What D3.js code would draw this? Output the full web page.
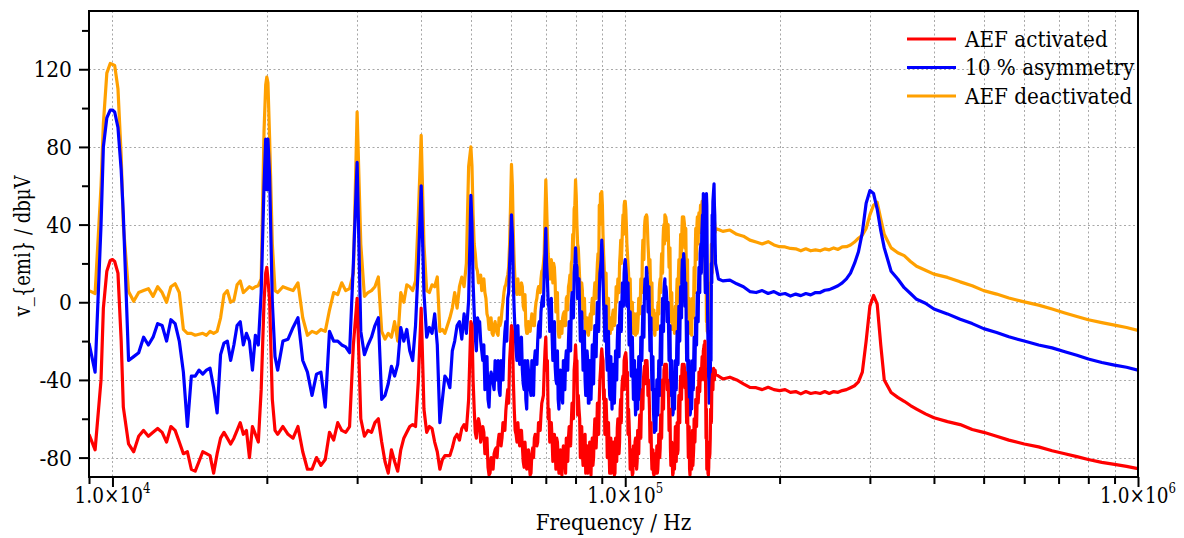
<!DOCTYPE html>
<html><head><meta charset="utf-8">
<script src="https://cdn.jsdelivr.net/npm/d3@7"></script>
<style>
body{margin:0;background:#fff}
svg{display:block}
</style>
</head><body>
<svg id="chart" width="1184" height="538"></svg>
<script>
// ---------- DATA (frequency in kHz, level in dBµV) ----------
const freqLowKHz = [9,9.25,9.5,9.75,10,10.25,10.5,10.75,11,11.25,11.5,11.75,12,12.25,12.5,12.75,13,13.25,13.5,13.75,14,14.25,14.5,14.75,15,15.25,15.5,15.75,16,16.25,16.5,16.75,17,17.25,17.5,17.75,18,18.25,18.5,18.75,19,19.25,19.5,19.75,
19.9,20,20.1,20.25,20.5,20.75,21,
21.5,22,22.5,23,23.5,24,24.5,25,25.5,26,26.5,27,27.5,28,28.5,29,29.5,30,30.5,31,31.5,32,32.5,33,33.5,34,34.5,35,35.5,36,36.5,37,37.5,38,38.5,39,39.5,40,40.5,41,41.5,42,42.5,43,43.5,44,44.5,45,45.5,46,46.5,47,47.5,48,48.5,49,49.5,50,
51,52,53,54,55,56,57,58,59,60,61,62,63,64,65,66,67,68,69,70,71,72,73,74,75,76,77,78,79,80,81,82,83,84,85,86,87,88,89,90,91,92,93,94,95,96,97,98,99,100,
101,102,103,104,105,106,107,108,109,110,111,112,113,114,115,116,117,118,119,120,121,122,123,124,125,126,127,128,129,130,131,132,133,134,135,136,137,138,139,140,141,142,143,144,145,146,147,148,149,150];

const deactivatedLow = [6,4.5,60,118,122.5,110,40,5.5,0.5,5,6,7,3,8,5,0,8,9.5,5,-14,-16,-16,-17,-16.5,-16,-17,-15,-16,-15,-8,4,6,0,1,9,11,5,6.5,8,7,8,8.5,12,88,
112,116,113,85,30,6,5,
8,7,6,10,-8,-17,-15,-16,-14,-15,-4,5,4,10,6,7,15,98,30,3,5,6,8,13,-15,-19,-16,-18,-10,-20,5,0,9,8,6,11,45,86,30,6,5,9,8,13,-15,-14,-16,-12,-8,-3,5,-3,8,13,8,20,70,80,
25,11,12,-8,-16,-14,-12,5,14,71,10,6,8,-12,-14,-8,0,8,16,63,20,17,10,-15,-12,-5,3,14,35,63,28,2,-5,-12,-14,-2,5,12,50,57,18,-2,-13,-10,-4,8,12,32,45,52,
25,8,-5,-14,-15,-8,0,25,38,45,25,10,-10,-16,-8,0,12,22,40,44,38,20,-10,-12,-6,5,15,25,38,44,32,10,-8,-16,-5,3,28,40,44,46,50,53,25,-10,-16,-5,20,35,39,38];

const asymmetryLow = [-21,-36,40,95,99,90,45,-30,-28,-26,-18,-22,-18,-11,-12,-20,-9,-11,-20,-36,-64,-38,-38,-35,-37,-35,-34,-44,-57,-27,-21,-20,-30,-22,-12,-10,-22,-16,-20,-35,-17,-22,5,60,
84,58,84,65,0,-28,-35,
-20,-19,-13,-8,-30,-36,-48,-37,-36,-54,-15,-20,-20,-22,-23,-26,20,72,-15,-27,-22,-18,-12,-8,-50,-48,-42,-33,-38,-32,-13,-20,-14,-25,-30,-12,20,60,5,-18,-13,-16,-6,-22,-62,-50,-38,-40,-44,-25,-20,-12,-10,-19,-6,-16,1,55,
-18,-10,-22,-50,-38,-35,-48,-24,2,45,-16,-26,-35,-50,-38,-42,-27,-10,3,38,-3,-17,-33,-50,-45,-38,-28,-12,3,28,10,-12,-28,-37,-52,-38,-22,-10,5,32,-8,-27,-38,-45,-50,-28,-15,-5,6,22,
5,-12,-28,-42,-52,-45,-35,-15,5,18,0,-20,-40,-67,-55,-45,-25,-10,6,8,-5,-25,-45,-57,-40,-25,-15,-5,15,25,5,-25,-45,-57,-45,-30,-20,-5,8,25,35,56,20,56,-20,-50,-30,40,61,20];

const activatedLow = [-68,-76,-40,16,22,15,-54,-73,-77,-69,-66,-69,-67,-65,-67,-72,-64,-66,-72,-78,-77,-86,-87,-82,-77,-78,-79,-88,-78,-70,-67,-70,-73,-70,-66,-62,-68,-66,-80,-64,-68,-72,-45,0,
15,18,12,1,-50,-66,-68,
-64,-68,-70,-64,-77,-86,-86,-80,-84,-81,-67,-71,-62,-66,-67,-64,-22,2,-60,-69,-66,-67,-62,-60,-72,-82,-88,-76,-82,-87,-76,-70,-67,-64,-63,-64,-40,-3,-55,-67,-64,-65,-72,-77,-86,-81,-79,-79,-79,-75,-70,-68,-71,-65,-63,-66,-50,-10,
-67,-63,-67,-85,-82,-75,-68,-63,-45,-12,-66,-70,-74,-80,-84,-75,-70,-64,-50,-18,-55,-70,-75,-80,-85,-84,-76,-68,-58,-22,-48,-68,-74,-82,-86,-75,-68,-66,-50,-24,-45,-60,-75,-88,-78,-73,-68,-50,-38,-27,
-36,-72,-85,-80,-75,-72,-65,-45,-33,-32,-40,-70,-82,-85,-83,-80,-75,-55,-35,-33,-40,-62,-80,-88,-75,-70,-55,-45,-35,-33,-36,-55,-70,-80,-78,-75,-62,-55,-48,-38,-33,-25,-20,-55,-88,-80,-60,-37,-35,-37];

// extra readings around the 10 kHz fundamental
const freqPeakKHz = [9.6, 9.9, 10.1, 10.4];
const deactivatedPeak = [92, 123, 122, 75];
const asymmetryPeak = [80, 99, 98, 68];
const activatedPeak = [-3, 21.5, 21, -20];

// extra readings between the integer-kHz samples (dense ripple region 50–150 kHz)
const freqMidKHz = [50.5,51.5,52.5,53.5,54.5,55.5,56.5,57.5,58.5,59.5,60.5,61.5,62.5,63.5,64.5,65.5,66.5,67.5,68.5,69.5,
70.5,71.5,72.5,73.5,74.5,75.5,76.5,77.5,78.5,79.5,80.5,81.5,82.5,83.5,84.5,85.5,86.5,87.5,88.5,89.5,
90.5,91.5,92.5,93.5,94.5,95.5,96.5,97.5,98.5,99.5,100.5,101.5,102.5,103.5,104.5,105.5,106.5,107.5,108.5,109.5,
110.5,111.5,112.5,113.5,114.5,115.5,116.5,117.5,118.5,119.5,120.5,121.5,122.5,123.5,124.5,125.5,126.5,127.5,128.5,129.5,
130.5,131.5,132.5,133.5,134.5,135.5,136.5,137.5,138.5,139.5,140.5,141.5,142.5,143.5,144.5,145.5,146.5,147.5,148.5,149.5];

const deactivatedMid = [45,16,6,2,-14,-12,-17,-4,9,30,35,4,9,-4,-16,-10,-12,6,12,25,
35,12,20,-5,-18,-8,-12,8,20,48,40,12,6,-10,-16,-6,0,10,25,56,
35,5,-8,-16,-6,-10,4,20,28,50,40,15,-2,-12,-8,-16,-2,12,30,44,
38,15,0,-14,-10,-14,6,18,32,45,40,28,5,-14,-8,-14,10,22,35,43,
40,20,0,-14,-10,-2,15,35,38,45,40,45,50,5,-15,-10,5,30,36,40];

const asymmetryMid = [10,-8,-25,-35,-40,-45,-30,-36,-10,20,10,-30,-20,-45,-30,-48,-30,-20,-5,15,
12,-12,-28,-42,-38,-52,-30,-20,-2,15,18,-5,-20,-40,-30,-45,-28,-15,0,18,
12,-18,-32,-50,-38,-40,-20,-8,0,15,14,-5,-20,-35,-48,-40,-50,-25,-5,10,
10,-10,-30,-55,-60,-48,-35,-18,0,12,2,-15,-35,-50,-48,-35,-20,-8,5,20,
15,-10,-38,-50,-52,-38,-25,-12,2,15,30,45,40,45,20,-40,-45,10,55,45];

const activatedMid = [-40,-62,-68,-74,-88,-78,-72,-70,-56,-30,-40,-72,-66,-85,-78,-88,-70,-72,-58,-35,
-30,-66,-78,-70,-88,-80,-88,-70,-62,-35,-30,-60,-78,-68,-88,-80,-84,-62,-58,-35,
-30,-55,-70,-82,-80,-88,-65,-72,-45,-30,-30,-55,-80,-88,-72,-82,-65,-55,-40,-30,
-35,-55,-78,-88,-78,-88,-72,-66,-45,-32,-36,-50,-75,-82,-84,-68,-78,-50,-42,-32,
-34,-48,-66,-86,-72,-84,-68,-58,-45,-42,-36,-30,-22,-45,-80,-85,-70,-45,-36,-36];

// quarter-kHz readings, 50–150 kHz
const freqQuarterKHz = [50.25,50.75,51.25,51.75,52.25,52.75,53.25,53.75,54.25,54.75,55.25,55.75,56.25,56.75,57.25,57.75,58.25,58.75,59.25,59.75,
60.25,60.75,61.25,61.75,62.25,62.75,63.25,63.75,64.25,64.75,65.25,65.75,66.25,66.75,67.25,67.75,68.25,68.75,69.25,69.75,
70.25,70.75,71.25,71.75,72.25,72.75,73.25,73.75,74.25,74.75,75.25,75.75,76.25,76.75,77.25,77.75,78.25,78.75,79.25,79.75,
80.25,80.75,81.25,81.75,82.25,82.75,83.25,83.75,84.25,84.75,85.25,85.75,86.25,86.75,87.25,87.75,88.25,88.75,89.25,89.75,
90.25,90.75,91.25,91.75,92.25,92.75,93.25,93.75,94.25,94.75,95.25,95.75,96.25,96.75,97.25,97.75,98.25,98.75,99.25,99.75,
100.25,100.75,101.25,101.75,102.25,102.75,103.25,103.75,104.25,104.75,105.25,105.75,106.25,106.75,107.25,107.75,108.25,108.75,109.25,109.75,
110.25,110.75,111.25,111.75,112.25,112.75,113.25,113.75,114.25,114.75,115.25,115.75,116.25,116.75,117.25,117.75,118.25,118.75,119.25,119.75,
120.25,120.75,121.25,121.75,122.25,122.75,123.25,123.75,124.25,124.75,125.25,125.75,126.25,126.75,127.25,127.75,128.25,128.75,129.25,129.75,
130.25,130.75,131.25,131.75,132.25,132.75,133.25,133.75,134.25,134.75,135.25,135.75,136.25,136.75,137.25,137.75,138.25,138.75,139.25,139.75,
140.25,140.75,141.25,141.75,142.25,142.75,143.25,143.75,144.25,144.75,145.25,145.75,146.25,146.75,147.25,147.75,148.25,148.75,149.25,149.75];

const deactivatedQuarter = [70,30,18,10,14,8,5,-6,-14,-8,-17,-10,-16,-8,-10,0,8,12,18,50,
60,20,6,12,4,10,-2,4,-16,-10,-15,-6,-12,-4,2,8,5,16,20,45,
50,25,12,22,10,18,-5,5,-18,-10,-16,-6,-12,2,-4,10,6,22,28,50,
55,30,20,5,10,-8,2,-15,-8,-17,-8,-14,2,-6,10,2,20,10,40,55,
50,25,8,15,-5,2,-16,-8,-14,-4,-12,-2,0,12,5,25,20,38,35,52,
48,30,20,5,12,-8,0,-16,-6,-17,-6,-14,2,-6,12,5,32,22,42,40,
44,30,18,22,2,10,-14,-4,-17,-6,-14,-2,-6,10,5,25,15,38,30,44,
42,32,40,18,28,0,5,-14,-4,-16,-2,-10,12,0,22,10,35,22,44,38,
42,28,38,15,22,-2,2,-16,-6,-17,2,-8,18,5,38,22,44,30,46,36,
50,36,52,40,54,45,12,30,-8,-14,-4,-16,10,0,30,15,40,30,42,36];

const asymmetryQuarter = [40,-5,-25,-10,-20,-30,-45,-28,-54,-36,-42,-30,-40,-45,-30,-40,-15,-20,5,30,
35,-5,-25,-12,-32,-18,-42,-30,-55,-35,-45,-30,-48,-25,-32,-12,-18,0,-2,25,
20,0,-15,2,-30,-10,-40,-25,-55,-35,-48,-30,-45,-25,-35,-10,-25,5,-8,20,
20,2,12,-20,-5,-35,-15,-48,-25,-52,-30,-50,-22,-42,-12,-28,0,-15,15,22,
25,0,-20,-2,-35,-15,-48,-28,-55,-32,-52,-25,-40,-12,-28,0,-15,10,-2,20,
18,-2,10,-22,-5,-38,-18,-50,-30,-58,-35,-55,-28,-48,-18,-30,-2,-18,12,2,
15,-5,8,-25,-8,-45,-28,-62,-45,-66,-40,-58,-30,-48,-12,-32,2,-15,10,-2,
6,-10,0,-30,-12,-48,-30,-58,-42,-55,-30,-45,-15,-32,-2,-20,8,-8,22,10,
22,-2,10,-30,-10,-52,-30,-58,-40,-55,-30,-45,-18,-35,-8,-22,5,-10,18,5,
28,15,40,25,50,30,5,45,50,-5,-35,-52,-40,-15,20,45,52,58,50,30];

const activatedQuarter = [-12,-55,-70,-60,-72,-64,-78,-70,-89,-80,-86,-76,-80,-68,-74,-62,-66,-50,-52,-22,
-15,-55,-68,-62,-74,-66,-82,-72,-86,-76,-89,-78,-80,-68,-74,-62,-66,-52,-48,-25,
-35,-60,-72,-62,-82,-68,-86,-72,-88,-76,-89,-74,-80,-70,-82,-64,-74,-52,-60,-30,
-30,-58,-55,-80,-64,-84,-70,-88,-74,-86,-72,-89,-70,-80,-60,-75,-52,-68,-40,-28,
-28,-50,-68,-50,-80,-62,-88,-70,-84,-72,-89,-70,-82,-60,-78,-55,-62,-40,-45,-28,
-26,-45,-68,-62,-86,-76,-89,-74,-84,-70,-86,-66,-78,-58,-70,-48,-55,-36,-42,-30,
-30,-48,-45,-72,-62,-86,-76,-89,-80,-88,-74,-86,-68,-80,-58,-70,-40,-55,-33,-40,
-32,-45,-42,-66,-55,-84,-72,-89,-76,-86,-64,-82,-62,-76,-48,-62,-38,-50,-32,-40,
-32,-44,-40,-62,-50,-80,-64,-89,-70,-86,-66,-80,-60,-72,-50,-64,-44,-52,-36,-46,
-34,-40,-28,-38,-24,-40,-30,-70,-86,-75,-89,-72,-78,-55,-62,-40,-45,-34,-40,-35];

const freqHighKHz = [152,155,160,165,170,175,180,185,190,195,200,205,210,215,220,225,230,235,240,245,250,255,260,265,270,275,280,
285,290,295,300,305,310,315,320,330,340,350,360,370,385,400,425,450,475,500,530,560,600,640,680,720,760,800,850,900,950,1000];

const deactivatedHigh = [37.5,36.5,37.2,35,34,32,31,30,31.2,29.5,28.6,28.5,27.7,27.5,26.5,27.5,26.5,27,26.5,27.5,27,28,27.2,28.5,28.6,29.5,31,
33,34.5,38,45,50,51.5,43,35,28,25.5,24,21,18.5,16.5,14.5,12.8,10.5,8.5,6,4.2,2.2,0.2,-1.5,-3.5,-5.5,-7.3,-9,-10.5,-11.8,-13,-14.5];

const asymmetryHigh = [12,11,11.4,9.5,8,5.5,5,6,4.5,5.5,4,4.5,3.2,4.2,3.4,4.5,3.8,5,5,6.2,6.5,7.5,8.5,10,12,15,20,
26,36,51,57.5,56,48,37,28,16,12,7.5,4.5,1.5,-0.5,-3.5,-6,-8.8,-11,-13.6,-15.6,-17.8,-20,-22,-23.5,-25.5,-27.3,-29.2,-31,-32.4,-33.5,-35];

const activatedHigh = [-38,-39.5,-38.6,-40,-42,-43.8,-44,-45,-43.8,-45,-45.5,-45,-46.4,-46,-47.2,-46,-47,-46.5,-47,-46,-47,-46,-46.4,-45.5,-45,-44,-43,
-41,-36,-20,-2,3.5,-1,-22,-40,-46.5,-49,-51,-53.2,-55,-57.5,-59.5,-61.5,-63,-65.5,-67,-69,-71,-73,-74.5,-76.5,-78,-79.5,-81,-82.5,-83.5,-84.5,-85.7];

const seriesNames = ["AEF activated", "10 % asymmetry", "AEF deactivated"];
const seriesColors = ["#ff0000", "#0000ff", "#ffa000"];

const xMajorTicks = [10, 100, 1000];
const xMajorMantissa = ["1.0×10", "1.0×10", "1.0×10"];
const xMajorExponent = ["4", "5", "6"];
const xMinorTicks = [9,20,30,40,50,60,70,80,90,200,300,400,500,600,700,800,900];
const xGridTicks = [10,20,30,40,50,60,70,80,90,100,200,300,400,500,600,700,800,900];
const yMajorTicks = [-80,-40,0,40,80,120];
const yMinorTicks = [-60,-20,20,60,100,140];

const xTitle = "Frequency / Hz";
const yTitle = "v_{emi} / dbμV";

// ---------- CHART ----------
const FONT = "DejaVu Serif, serif";
const FS = 22;
const svg = d3.select("#chart");
svg.append("rect").attr("width",1184).attr("height",538).attr("fill","#ffffff");

const L = 89, R = 1138, T = 11, B = 477;
const x = d3.scaleLog().domain([9, 1000]).range([L, R]);
const y = d3.scaleLinear().domain([-90, 150]).range([B, T]);

// grid
const grid = svg.append("g").attr("stroke","#a8a8a8").attr("stroke-width",1).attr("stroke-dasharray","2,2.5");
grid.selectAll(".gx").data(xGridTicks).join("line")
  .attr("x1", d => Math.round(x(d)) + 0.5).attr("x2", d => Math.round(x(d)) + 0.5)
  .attr("y1", T).attr("y2", B);
grid.selectAll(".gy").data(yMajorTicks).join("line")
  .attr("y1", d => Math.round(y(d)) + 0.5).attr("y2", d => Math.round(y(d)) + 0.5)
  .attr("x1", L).attr("x2", R);

// series
svg.append("clipPath").attr("id", "plotclip").append("rect")
  .attr("x", L).attr("y", T).attr("width", R - L).attr("height", B - T);

function buildSeries(parts) {
  let pts = [];
  parts.forEach(([fs, vs]) => { pts = pts.concat(fs.map((f, k) => [f, vs[k]])); });
  return pts.sort((a, b) => a[0] - b[0]);
}
const seriesData = [
  buildSeries([[freqLowKHz, activatedLow], [freqPeakKHz, activatedPeak], [freqMidKHz, activatedMid], [freqQuarterKHz, activatedQuarter], [freqHighKHz, activatedHigh]]),
  buildSeries([[freqLowKHz, asymmetryLow], [freqPeakKHz, asymmetryPeak], [freqMidKHz, asymmetryMid], [freqQuarterKHz, asymmetryQuarter], [freqHighKHz, asymmetryHigh]]),
  buildSeries([[freqLowKHz, deactivatedLow], [freqPeakKHz, deactivatedPeak], [freqMidKHz, deactivatedMid], [freqQuarterKHz, deactivatedQuarter], [freqHighKHz, deactivatedHigh]])
];
const line = d3.line().x(d => x(d[0])).y(d => y(d[1]));
const drawOrder = [2, 1, 0];
const plot = svg.append("g").attr("clip-path", "url(#plotclip)");
drawOrder.forEach(i => {
  plot.append("path").datum(seriesData[i])
    .attr("d", line)
    .attr("fill", "none")
    .attr("stroke", seriesColors[i])
    .attr("stroke-width", 3.2)
    .attr("stroke-linejoin", "round");
});

// axes ticks
function tickAxis(axis, tr) {
  const g = svg.append("g").attr("transform", tr);
  g.call(axis);
  g.select(".domain").remove();
  g.selectAll(".tick line").attr("stroke","#000").attr("stroke-width",2);
  g.selectAll(".tick text").remove();
}
tickAxis(d3.axisBottom(x).tickValues(xMinorTicks).tickSize(7).tickFormat(""), `translate(0,${B})`);
tickAxis(d3.axisBottom(x).tickValues(xMajorTicks).tickSize(10).tickFormat(""), `translate(0,${B})`);
tickAxis(d3.axisLeft(y).tickValues(yMinorTicks).tickSize(7).tickFormat(""), `translate(${L},0)`);
tickAxis(d3.axisLeft(y).tickValues(yMajorTicks).tickSize(10).tickFormat(""), `translate(${L},0)`);

// frame
svg.append("rect").attr("x", L).attr("y", T).attr("width", R - L).attr("height", B - T)
  .attr("fill","none").attr("stroke","#000").attr("stroke-width",2);

// y tick labels
svg.append("g").selectAll("text").data(yMajorTicks).join("text")
  .attr("transform", d => `translate(72,${y(d)}) scale(0.92,1)`).attr("dy","0.36em")
  .attr("text-anchor","end").attr("font-size",FS).attr("font-family", FONT)
  .text(d => d);

// x tick labels
const xl = svg.append("g").selectAll("text").data(xMajorTicks).join("text")
  .attr("transform", d => `translate(${x(d)},503) scale(0.84,1)`).attr("text-anchor","middle")
  .attr("font-size",FS).attr("font-family", FONT);
xl.append("tspan").text((d,i) => xMajorMantissa[i]);
xl.append("tspan").attr("dy",-10).attr("font-size",14).text((d,i) => xMajorExponent[i]);

// axis titles
svg.append("text").attr("transform", `translate(${(L + R) / 2},530) scale(0.91,1)`).attr("text-anchor","middle")
  .attr("font-size",FS).attr("font-family", FONT).text(xTitle);
svg.append("text").attr("transform", `translate(30,246) rotate(-90) scale(0.82,1)`)
  .attr("text-anchor","middle").attr("font-size",FS).attr("font-family", FONT).text(yTitle);

// legend
const legY = [39, 67.5, 96];
const leg = svg.append("g");
seriesNames.forEach((name, i) => {
  leg.append("line").attr("x1", 907).attr("x2", 956).attr("y1", legY[i]).attr("y2", legY[i])
    .attr("stroke", seriesColors[i]).attr("stroke-width", 3);
  leg.append("text").attr("transform", `translate(965,${legY[i] + 7.5}) scale(0.91,1)`)
    .attr("font-size", FS).attr("font-family", FONT).text(name);
});
</script>
</body></html>
